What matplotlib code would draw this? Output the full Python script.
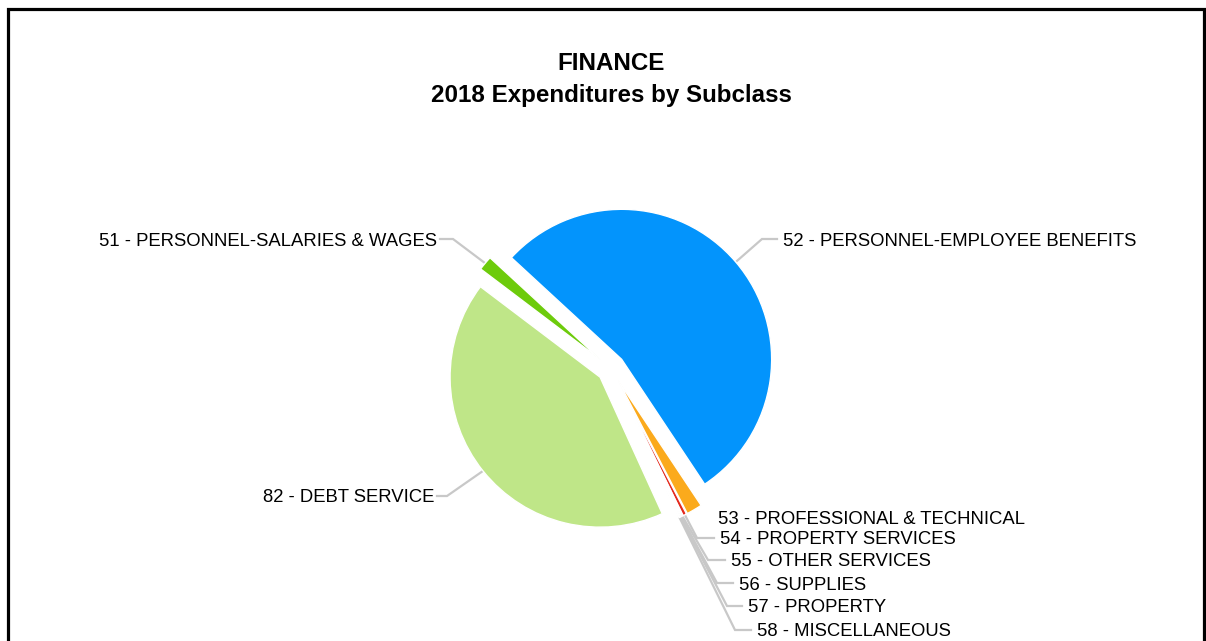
import matplotlib
matplotlib.use("Agg")
import matplotlib.pyplot as plt
import numpy as np

plt.rcParams['font.family'] = ['Liberation Sans', 'DejaVu Sans']

# ─── Data ────────────────────────────────────────────────────────────────────
subclasses = [
    "51 - PERSONNEL-SALARIES & WAGES",
    "52 - PERSONNEL-EMPLOYEE BENEFITS",
    "53 - PROFESSIONAL & TECHNICAL",
    "54 - PROPERTY SERVICES",
    "55 - OTHER SERVICES",
    "56 - SUPPLIES",
    "57 - PROPERTY",
    "58 - MISCELLANEOUS",
    "82 - DEBT SERVICE",
]
share_pct = [1.55, 53.8, 1.7, 0.4, 0.15, 0.1, 0.08, 0.1, 42.1]
colors = ["#6dcb0b", "#0394fc", "#fbaa1c", "#e4291d",
          "#8c8c8c", "#a6a6a6", "#9a9a9a", "#b4b4b4", "#bfe688"]

# label placement (pixels from top-left): text x, text y, alignment, elbow x
label_x = [437, 783, 718, 720, 731, 739, 748, 757, 434]
label_y = [239, 239, 517, 538, 560, 583, 606, 630, 496]
label_ha = ["right", "left", "left", "left", "left", "left", "left", "left", "right"]
elbow_x = [453, 762, None, 697, 708, 717, 727, 735, 447]

# ─── Figure in pixel coordinates ─────────────────────────────────────────────
W, H = 1206, 641
fig = plt.figure(figsize=(W / 100, H / 100), dpi=100)
ax = fig.add_axes([0, 0, 1, 1])

def py(y):
    # pixel row -> data y
    return H - y

cx, cy, R = 611, py(368.4), 150
# explode is in data units here (pixels), every slice pulled out the same
wedges, _ = ax.pie(share_pct, colors=colors, startangle=142.9, counterclock=False,
                   center=(cx, cy), radius=R, explode=[14] * len(share_pct),
                   wedgeprops=dict(edgecolor="white", linewidth=1))

ax.set_xlim(0, W)
ax.set_ylim(0, H)
ax.set_aspect("equal")
ax.axis("off")

# ─── Labels with connectors ──────────────────────────────────────────────────
line_col = "#c8c8c8"
for w, name, tx, ty, ha, ex in zip(wedges, subclasses, label_x, label_y, label_ha, elbow_x):
    mid = np.deg2rad((w.theta1 + w.theta2) / 2)
    ax_x = w.center[0] + R * np.cos(mid)
    ax_y = w.center[1] + R * np.sin(mid)
    if ex is not None:
        stub_end = tx + 3 if ha == "right" else tx - 6
        ax.plot([ax_x, ex, stub_end], [ax_y, py(ty), py(ty)],
                color=line_col, lw=1.6, solid_joinstyle="miter", zorder=0)
    ax.text(tx, py(ty + 6.5), name, ha=ha, va="baseline",
            fontsize=13.3, color="#000000")

# ─── Title ───────────────────────────────────────────────────────────────────
ax.text(611, py(70), "FINANCE", ha="center", va="baseline",
        fontsize=17.4, fontweight="bold")
ax.text(611, py(102), "2018 Expenditures by Subclass", ha="center", va="baseline",
        fontsize=17.4, fontweight="bold")

# outer frame, open at the bottom
ax.plot([8, 8, 1204, 1204], [0, py(9), py(9), 0], color="black", lw=2.3,
        solid_joinstyle="miter", clip_on=False)

fig.savefig("out.png", dpi=100)
